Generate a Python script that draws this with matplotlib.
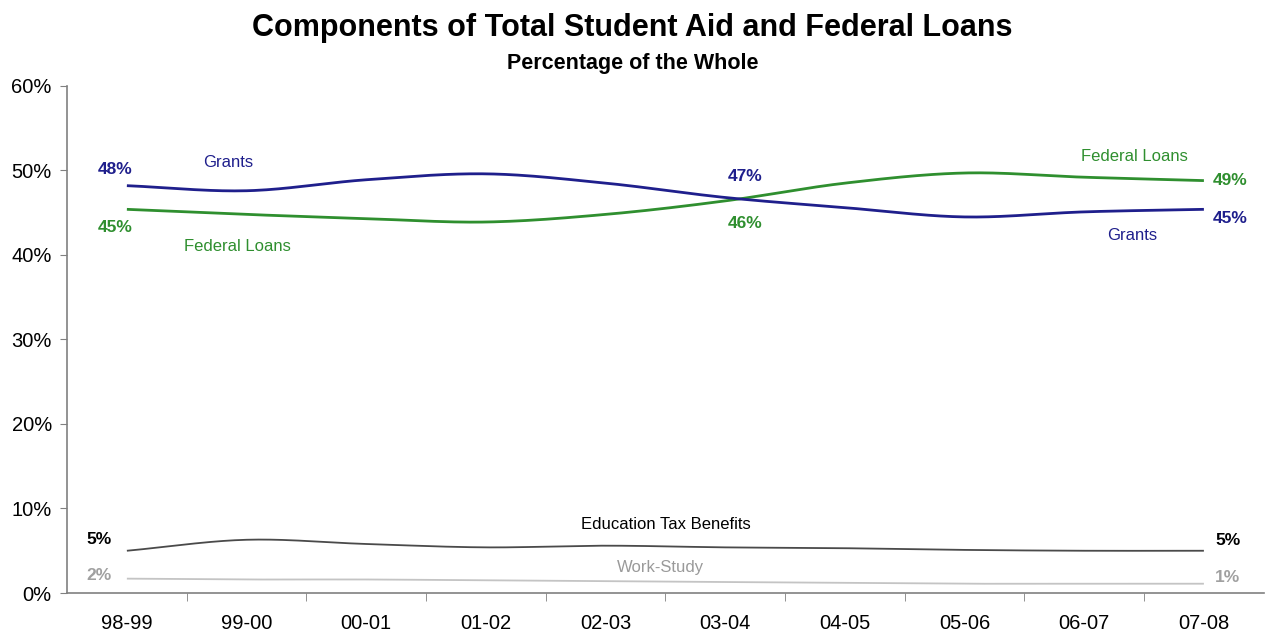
import numpy as np
import matplotlib
matplotlib.use("Agg")
import matplotlib.pyplot as plt
from matplotlib.ticker import FixedLocator, FuncFormatter

plt.rcParams["font.family"] = ["Liberation Sans", "DejaVu Sans"]

years = ["98-99", "99-00", "00-01", "01-02", "02-03",
         "03-04", "04-05", "05-06", "06-07", "07-08"]
grants = [48.2, 47.6, 48.9, 49.6, 48.5, 46.8, 45.6, 44.5, 45.1, 45.4]
federal_loans = [45.4, 44.8, 44.3, 43.9, 44.8, 46.4, 48.5, 49.7, 49.2, 48.8]
tax_benefits = [5.0, 6.3, 5.8, 5.4, 5.6, 5.4, 5.3, 5.1, 5.0, 5.0]
work_study = [1.7, 1.6, 1.6, 1.5, 1.4, 1.3, 1.2, 1.1, 1.1, 1.1]

NAVY = "#1f1f8c"
GREEN = "#2f8f2f"
DARK = "#4a4a4a"
LIGHT = "#c4c4c4"


def smooth(xs, ys, steps=30):
    """Catmull-Rom curve through the points (spreadsheet-style smoothed line)."""
    xs = np.asarray(xs, float)
    ys = np.asarray(ys, float)
    px = np.concatenate([[2 * xs[0] - xs[1]], xs, [2 * xs[-1] - xs[-2]]])
    py = np.concatenate([[2 * ys[0] - ys[1]], ys, [2 * ys[-1] - ys[-2]]])
    ox, oy = [], []
    t = np.linspace(0, 1, steps, endpoint=False)
    for i in range(1, len(px) - 2):
        for p, out in ((px, ox), (py, oy)):
            p0, p1, p2, p3 = p[i - 1], p[i], p[i + 1], p[i + 2]
            out.extend(0.5 * ((2 * p1) + (-p0 + p2) * t
                              + (2 * p0 - 5 * p1 + 4 * p2 - p3) * t ** 2
                              + (-p0 + 3 * p1 - 3 * p2 + p3) * t ** 3))
    ox.append(xs[-1])
    oy.append(ys[-1])
    return np.array(ox), np.array(oy)


fig = plt.figure(figsize=(12.65, 6.32), dpi=100)
ax = fig.add_axes([0.053, 0.0617, 0.946, 0.8023])

x = np.arange(len(years))
for vals, color, lw in ((work_study, LIGHT, 1.3), (tax_benefits, DARK, 1.3),
                        (federal_loans, GREEN, 2.0), (grants, NAVY, 2.0)):
    sx, sy = smooth(x, vals)
    ax.plot(sx, sy, color=color, lw=lw, solid_capstyle="butt")

ax.set_xlim(-0.5, len(years) - 0.5)
ax.set_ylim(0, 60)
ax.set_xticks(x)
ax.set_xticklabels(years, fontsize=14.5)
ax.xaxis.set_minor_locator(FixedLocator(np.arange(0.5, len(years) - 0.5, 1)))
ax.tick_params(axis="x", which="major", length=0, pad=15)
ax.tick_params(axis="x", which="minor", length=6, direction="out", color="#808080")
ax.set_yticks(range(0, 61, 10))
ax.yaxis.set_major_formatter(FuncFormatter(lambda v, _: f"{v:.0f}%"))
ax.tick_params(axis="y", labelsize=14.5, length=5, color="#808080", pad=6)
for s in ("top", "right"):
    ax.spines[s].set_visible(False)
for s in ("left", "bottom"):
    ax.spines[s].set_color("#808080")
    ax.spines[s].set_linewidth(1.2)


def pct(v):
    return f"{round(v):.0f}%"


# value labels at the ends and at the crossover
bold = dict(fontsize=12.5, fontweight="bold", ha="center", va="center")
ax.text(-0.1, 50.1, pct(grants[0]), color=NAVY, **bold)
ax.text(-0.1, 43.3, pct(federal_loans[0]), color=GREEN, **bold)
ax.text(5.17, 49.3, pct(grants[5]), color=NAVY, **bold)
ax.text(5.17, 43.7, pct(federal_loans[5]), color=GREEN, **bold)
ax.text(9.22, 48.8, pct(federal_loans[9]), color=GREEN, **bold)
ax.text(9.22, 44.3, pct(grants[9]), color=NAVY, **bold)
ax.text(-0.23, 6.3, pct(tax_benefits[0]), color="black", **bold)
ax.text(-0.23, 2.1, pct(work_study[0]), color="#a0a0a0", **bold)
ax.text(9.2, 6.2, pct(tax_benefits[9]), color="black", **bold)
ax.text(9.2, 1.8, pct(work_study[9]), color="#a0a0a0", **bold)

# series names
name = dict(fontsize=12, ha="center", va="center")
ax.text(0.85, 51.0, "Grants", color=NAVY, **name)
ax.text(0.92, 41.0, "Federal Loans", color=GREEN, **name)
ax.text(8.42, 51.7, "Federal Loans", color=GREEN, **name)
ax.text(8.4, 42.3, "Grants", color=NAVY, **name)
ax.text(4.5, 8.1, "Education Tax Benefits", color="black", **name)
ax.text(4.46, 3.0, "Work-Study", color="#9a9a9a", **name)

fig.text(0.5, 0.955, "Components of Total Student Aid and Federal Loans",
         fontsize=22, fontweight="bold", ha="center", va="center")
fig.text(0.5, 0.900, "Percentage of the Whole",
         fontsize=15.5, fontweight="bold", ha="center", va="center")

fig.savefig("out.png", dpi=100, facecolor="white")
